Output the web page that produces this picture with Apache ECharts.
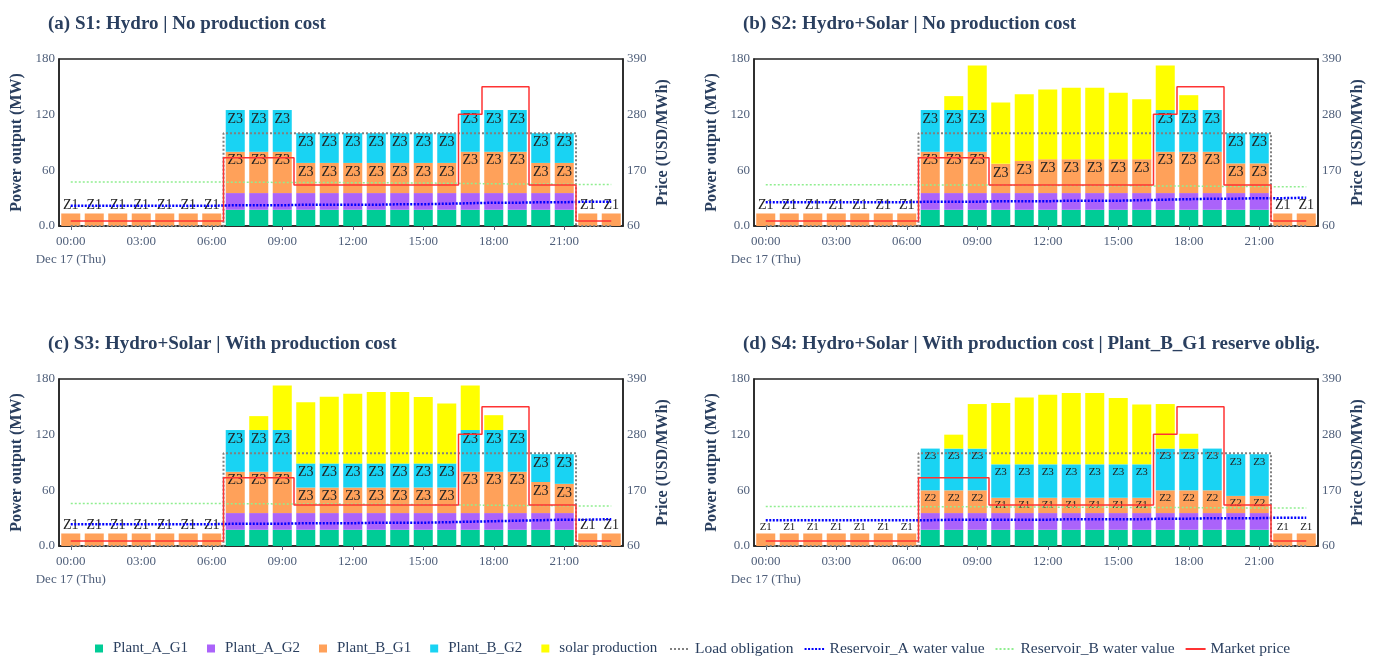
<!DOCTYPE html>
<html>
<head>
<meta charset="utf-8">
<script src="https://cdn.jsdelivr.net/npm/echarts@6/dist/echarts.min.js"></script>
<style>
  html, body { margin: 0; background: #fff; }
  #chart { width: 1373px; height: 657px; }
</style>
</head>
<body>
<div id="chart"></div>
<script>
// hourly categories
const hours = ['00:00','01:00','02:00','03:00','04:00','05:00','06:00','07:00','08:00','09:00','10:00','11:00',
               '12:00','13:00','14:00','15:00','16:00','17:00','18:00','19:00','20:00','21:00','22:00','23:00'];

// power output (MW), same in every scenario
const plantA_G1 = [0,0,0,0,0,0,0,17.5,17.5,17.5,17.5,17.5,17.5,17.5,17.5,17.5,17.5,17.5,17.5,17.5,17.5,17.5,0,0];
const plantA_G2 = [0,0,0,0,0,0,0,18,18,18,18,18,18,18,18,18,18,18,18,18,18,18,0,0];
const solarProd = [0,0,0,0,0,0,0,0,15,48,66,72,75,77,77,71.5,64.5,48,16,0,0,0,0,0];
const loadObligation = [0,0,0,0,0,0,0,100,100,100,100,100,100,100,100,100,100,100,100,100,100,100,0,0];
const marketPrice = [70,70,70,70,70,70,70,195,195,195,141,141,141,141,141,141,141,281,335,335,141,141,70,70];

// S1
const plantB_G1_s1 = [13.5,13.5,13.5,13.5,13.5,13.5,13.5,44.5,44.5,44.5,32.5,32.5,32.5,32.5,32.5,32.5,32.5,44.5,44.5,44.5,32.5,32.5,13.5,13.5];
const plantB_G2_s1 = [0,0,0,0,0,0,0,45,45,45,32,32,32,32,32,32,32,45,45,45,32,32,0,0];
const resA_s1 = [100,100,100,100,100,100,100,101,101,101,102,102,102,102,103,103,104,105,106,106,107,107,108,108];
const resB_s1 = [147,147,147,147,147,147,147,146.5,146.5,146,146,146,145.5,145.5,145,145,144.5,144,143.5,143,143,142.5,142,142];
// S2
const plantB_G1_s2 = [13.5,13.5,13.5,13.5,13.5,13.5,13.5,44.5,44.5,44.5,31.5,34.5,36.5,36.5,36.5,36.5,36.5,44.5,44.5,44.5,32,32,13.5,13.5];
const plantB_G2_s2 = [0,0,0,0,0,0,0,45,45,45,0,0,0,0,0,0,0,45,45,45,32.5,32.5,0,0];
const resA_s2 = [107,107,107,107,107,107,107,108,108,108,109,109,109,110,110,110,111,112,113,114,114,115,115,116];
const resB_s2 = [141.5,141.5,141.5,141.5,141.5,141.5,141.5,141,141,141,140.5,140.5,140,140,140,139.5,139.5,139,139,138.5,138,138,137.5,137.5];
// S3
const plantB_G1_s3 = [13.5,13.5,13.5,13.5,13.5,13.5,13.5,44.5,44.5,44.5,27.5,27.5,27.5,27.5,27.5,27.5,27.5,44.5,44.5,44.5,33.5,31.5,13.5,13.5];
const plantB_G2_s3 = [0,0,0,0,0,0,0,45,45,45,26,26,26,26,26,26,26,45,45,45,30,32,0,0];
const resA_s3 = [103,103,103,103,103,103,103,104,104,104,105,105,105,106,106,106,107,108,109,110,111,112,112,113];
const resB_s3 = [144,144,144,144,144,144,144,143.5,143.5,143,143,143,142.5,142.5,142,142,141.5,141,140.5,140,140,139.5,139,139];
// S4
const plantB_G1_s4 = [13.5,13.5,13.5,13.5,13.5,13.5,13.5,24.5,24.5,24.5,16.5,16.5,16.5,16.5,16.5,16.5,16.5,24.5,24.5,24.5,18.5,18.5,13.5,13.5];
const plantB_G2_s4 = [0,0,0,0,0,0,0,45,45,45,36,36,36,36,36,36,36,45,45,45,45,45,0,0];
const resA_s4 = [111,111,111,111,111,111,111,111,112,112,112,112,112,113,113,113,113,114,114,115,115,115,116,116];
const resB_s4 = [138,138,138,138,138,138,138,137.5,137.5,137.5,137,137,137,136.5,136.5,136.5,136,136,136,135.5,135.5,135,135,135];

// zone labels on the Plant_B bars
const zoneB_G1_a = ['Z1','Z1','Z1','Z1','Z1','Z1','Z1','Z3','Z3','Z3','Z3','Z3','Z3','Z3','Z3','Z3','Z3','Z3','Z3','Z3','Z3','Z3','Z1','Z1'];
const zoneB_G2_a = ['','','','','','','','Z3','Z3','Z3','Z3','Z3','Z3','Z3','Z3','Z3','Z3','Z3','Z3','Z3','Z3','Z3','',''];
const zoneB_G2_b = ['','','','','','','','Z3','Z3','Z3','','','','','','','','Z3','Z3','Z3','Z3','Z3','',''];
const zoneB_G1_d = ['Z1','Z1','Z1','Z1','Z1','Z1','Z1','Z2','Z2','Z2','Z1','Z1','Z1','Z1','Z1','Z1','Z1','Z2','Z2','Z2','Z2','Z2','Z1','Z1'];

const titles = ['(a) S1: Hydro | No production cost',
                '(b) S2: Hydro+Solar | No production cost',
                '(c) S3: Hydro+Solar | With production cost',
                '(d) S4: Hydro+Solar | With production cost | Plant_B_G1 reserve oblig.'];

const panels = [
  { bG1: plantB_G1_s1, bG2: plantB_G2_s1, solar: null,      resA: resA_s1, resB: resB_s1, z1: zoneB_G1_a, z2: zoneB_G2_a, fs: 14 },
  { bG1: plantB_G1_s2, bG2: plantB_G2_s2, solar: solarProd, resA: resA_s2, resB: resB_s2, z1: zoneB_G1_a, z2: zoneB_G2_b, fs: 14 },
  { bG1: plantB_G1_s3, bG2: plantB_G2_s3, solar: solarProd, resA: resA_s3, resB: resB_s3, z1: zoneB_G1_a, z2: zoneB_G2_a, fs: 14 },
  { bG1: plantB_G1_s4, bG2: plantB_G2_s4, solar: solarProd, resA: resA_s4, resB: resB_s4, z1: zoneB_G1_d, z2: zoneB_G2_a, fs: 11 }
];

const FONT = 'Liberation Serif';
const NAVY = '#2a3f5f';
const TICK = '#4f5f7a';
const gridPos = [
  { left: 59, top: 59 }, { left: 754, top: 59 },
  { left: 59, top: 379 }, { left: 754, top: 379 }
];

let myChart = echarts.init(document.getElementById('chart'));

let option = {
  animation: false,
  textStyle: { fontFamily: FONT },
  title: titles.map((t, i) => ({
    text: t,
    left: gridPos[i].left - 11,
    top: gridPos[i].top - 44,
    padding: 0,
    textStyle: { fontFamily: FONT, fontWeight: 'bold', fontSize: 19, color: NAVY }
  })),
  legend: [
    {
      data: ['Plant_A_G1', 'Plant_A_G2', 'Plant_B_G1', 'Plant_B_G2', 'solar production'],
      left: 95, top: 641, padding: 0,
      icon: 'rect', itemWidth: 8, itemHeight: 8, itemGap: 19,
      textStyle: { fontFamily: FONT, fontSize: 15, color: NAVY, padding: [0, 0, 0, 5] }
    },
    {
      data: ['Load obligation', 'Reservoir_A water value', 'Reservoir_B water value', 'Market price'],
      left: 669, top: 641, padding: 0,
      itemWidth: 20, itemHeight: 8, itemGap: 10,
      itemStyle: { color: 'transparent', borderWidth: 0 },
      textStyle: { fontFamily: FONT, fontSize: 15.5, color: NAVY }
    }
  ],
  grid: gridPos.map(g => ({
    left: g.left, top: g.top, width: 564, height: 167,
    show: true, borderColor: '#222', borderWidth: 1.5
  })),
  xAxis: [],
  yAxis: [],
  series: []
};

panels.forEach((p, i) => {
  option.xAxis.push({
    type: 'category', gridIndex: i, data: hours, boundaryGap: true,
    axisLine: { lineStyle: { color: '#222', width: 1.5 } },
    axisTick: { show: true, interval: 2, alignWithLabel: true, length: 4, lineStyle: { color: TICK } },
    axisLabel: {
      interval: 2, color: TICK, fontFamily: FONT, fontSize: 13, margin: 7, lineHeight: 18,
      formatter: (v, idx) => idx === 0 ? v + '\nDec 17 (Thu)' : v
    }
  });
  option.yAxis.push({
    type: 'value', gridIndex: i, min: 0, max: 180, interval: 60,
    axisLine: { show: true, lineStyle: { color: '#222', width: 1.5 } },
    axisTick: { show: false }, splitLine: { show: false },
    axisLabel: { color: TICK, fontFamily: FONT, fontSize: 13, margin: 4, formatter: v => v === 0 ? '0.0' : v },
    name: 'Power output (MW)', nameLocation: 'middle', nameGap: 34,
    nameTextStyle: { fontFamily: FONT, fontWeight: 'bold', fontSize: 16, color: NAVY }
  });
  option.yAxis.push({
    type: 'value', gridIndex: i, position: 'right', min: 60, max: 390, interval: 110,
    axisLine: { show: true, lineStyle: { color: '#222', width: 1.5 } },
    axisTick: { show: false }, splitLine: { show: false },
    axisLabel: { color: TICK, fontFamily: FONT, fontSize: 13, margin: 4 },
    name: 'Price (USD/MWh)', nameLocation: 'middle', nameGap: 32,
    nameTextStyle: { fontFamily: FONT, fontWeight: 'bold', fontSize: 16, color: NAVY }
  });

  const yL = 2 * i, yR = 2 * i + 1, stack = 'p' + i;
  const zLabel = (vals, zones) => vals.map((v, h) => ({
    value: v,
    label: {
      show: zones[h] !== '',
      formatter: zones[h],
      position: plantA_G1[h] === 0 ? 'top' : 'insideTop',
      distance: plantA_G1[h] === 0 ? 1 : 2
    }
  }));
  const bar = (name, color, data) => ({
    name, type: 'bar', xAxisIndex: i, yAxisIndex: yL, stack, data,
    barWidth: '81%', itemStyle: { color },
    label: { fontFamily: FONT, fontSize: p.fs, color: '#222' }
  });

  option.series.push(bar('Plant_A_G1', '#00cc96', plantA_G1));
  option.series.push(bar('Plant_A_G2', '#ab63fa', plantA_G2));
  option.series.push(bar('Plant_B_G1', '#ffa15a', zLabel(p.bG1, p.z1)));
  option.series.push(bar('Plant_B_G2', '#19d3f3', zLabel(p.bG2, p.z2)));
  if (p.solar) option.series.push(bar('solar production', '#ffff00', p.solar));

  const line = (name, yIdx, data, color, width, type, step) => ({
    name, type: 'line', xAxisIndex: i, yAxisIndex: yIdx, data, step,
    symbol: 'none', showSymbol: false, z: 3,
    lineStyle: { color, width, type }, itemStyle: { color }
  });
  option.series.push(line('Load obligation', yL, loadObligation, '#808080', 2, [2, 2], 'middle'));
  option.series.push(line('Reservoir_A water value', yR, p.resA, '#0000ff', 2.5, [2, 1.5], false));
  option.series.push(line('Reservoir_B water value', yR, p.resB, '#90ee90', 1.5, [2, 2], false));
  option.series.push(line('Market price', yR, marketPrice, '#ff3333', 1.5, 'solid', 'middle'));
});

option && myChart.setOption(option);
</script>
</body>
</html>
